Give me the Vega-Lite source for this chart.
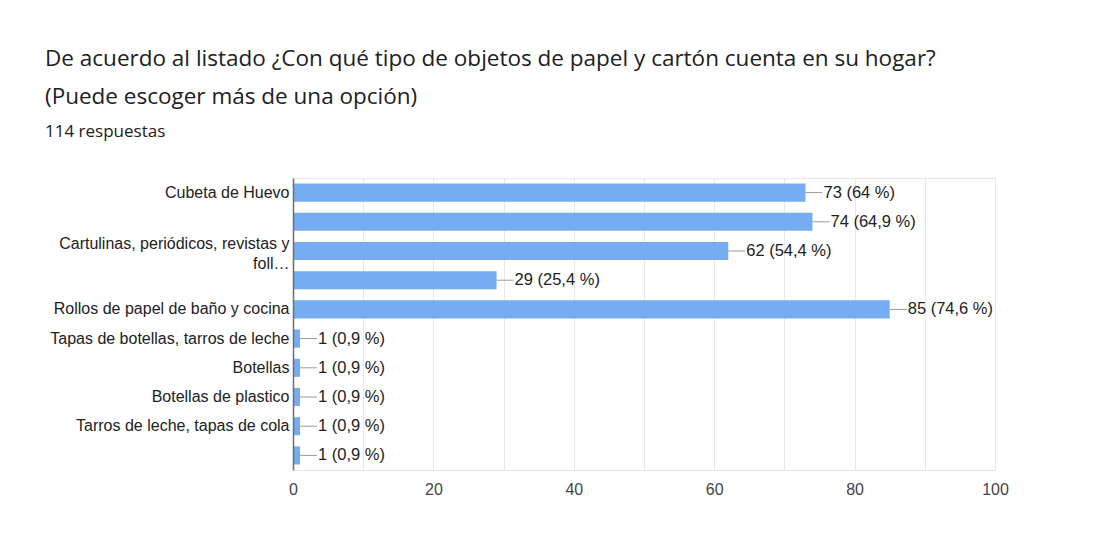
{
  "$schema": "https://vega.github.io/schema/vega-lite/v6.json",
  "width": 702,
  "height": 292,
  "autosize": {"type": "none"},
  "padding": {"left": 293, "top": 178, "right": 106, "bottom": 74},
  "background": "white",
  "config": {"view": {"stroke": "#e6e6e6"}},
  "title": {
    "text": ["De acuerdo al listado ¿Con qué tipo de objetos de papel y cartón cuenta en su hogar?", "(Puede escoger más de una opción)"],
    "subtitle": "114 respuestas",
    "anchor": "start",
    "frame": "group",
    "dx": -248,
    "offset": 38,
    "font": "Open Sans",
    "fontSize": 22.5,
    "fontWeight": "normal",
    "color": "#202124",
    "lineHeight": 38,
    "subtitleFont": "Open Sans",
    "subtitleFontSize": 17,
    "subtitleFontWeight": 500,
    "subtitleColor": "#202124",
    "subtitlePadding": 16
  },
  "data": {
    "values": [
      {"opcion": "Cubeta de Huevo", "respuestas": 73, "etiqueta": "73 (64 %)"},
      {"opcion": "(sin etiqueta) 2", "respuestas": 74, "etiqueta": "74 (64,9 %)"},
      {"opcion": "Cartulinas, periódicos, revistas y foll…", "respuestas": 62, "etiqueta": "62 (54,4 %)"},
      {"opcion": "(sin etiqueta) 4", "respuestas": 29, "etiqueta": "29 (25,4 %)"},
      {"opcion": "Rollos de papel de baño y cocina", "respuestas": 85, "etiqueta": "85 (74,6 %)"},
      {"opcion": "Tapas de botellas, tarros de leche", "respuestas": 1, "etiqueta": "1 (0,9 %)"},
      {"opcion": "Botellas", "respuestas": 1, "etiqueta": "1 (0,9 %)"},
      {"opcion": "Botellas de plastico", "respuestas": 1, "etiqueta": "1 (0,9 %)"},
      {"opcion": "Tarros de leche, tapas de cola", "respuestas": 1, "etiqueta": "1 (0,9 %)"},
      {"opcion": "(sin etiqueta) 10", "respuestas": 1, "etiqueta": "1 (0,9 %)"}
    ]
  },
  "encoding": {
    "y": {
      "field": "opcion",
      "type": "nominal",
      "sort": null,
      "title": null,
      "scale": {"paddingInner": 0.38, "paddingOuter": 0.19},
      "axis": {
        "domain": true,
        "domainColor": "#6e6e6e",
        "domainWidth": 1.5,
        "ticks": false,
        "grid": false,
        "labelPadding": 4,
        "labelFont": "Liberation Sans",
        "labelFontSize": 16,
        "labelColor": "#222222",
        "labelLimit": 0,
        "labelLineHeight": 20,
        "labelOffset": {"condition": {"test": "indexof(datum.value, 'Cartulinas') == 0", "value": -7}, "value": 0},
        "zindex": 1,
        "labelExpr": "indexof(datum.value, '(sin etiqueta)') == 0 ? '' : (indexof(datum.value, 'Cartulinas') == 0 ? ['Cartulinas, periódicos, revistas y', 'foll…'] : datum.value)"
      }
    }
  },
  "layer": [
    {
      "mark": {"type": "bar", "color": "#76acf2"},
      "encoding": {
        "x": {
          "field": "respuestas",
          "type": "quantitative",
          "title": null,
          "scale": {"domain": [0, 100]},
          "axis": {
            "values": [0, 10, 20, 30, 40, 50, 60, 70, 80, 90, 100],
            "labelExpr": "datum.value % 20 == 0 ? datum.label : ''",
            "domain": false,
            "ticks": false,
            "gridColor": "#e8e8e8",
            "labelPadding": 11,
            "labelFont": "Liberation Sans",
            "labelFontSize": 16,
            "labelColor": "#444444",
            "labelFlush": false
          }
        }
      }
    },
    {
      "mark": {"type": "rule", "color": "#9a9a9a", "strokeWidth": 1, "x2Offset": 17},
      "encoding": {
        "x": {"field": "respuestas", "type": "quantitative"},
        "x2": {"field": "respuestas"}
      }
    },
    {
      "mark": {"type": "text", "align": "left", "dx": 18, "font": "Liberation Sans", "fontSize": 16.5, "color": "#222222"},
      "encoding": {
        "x": {"field": "respuestas", "type": "quantitative"},
        "text": {"field": "etiqueta"}
      }
    }
  ]
}
